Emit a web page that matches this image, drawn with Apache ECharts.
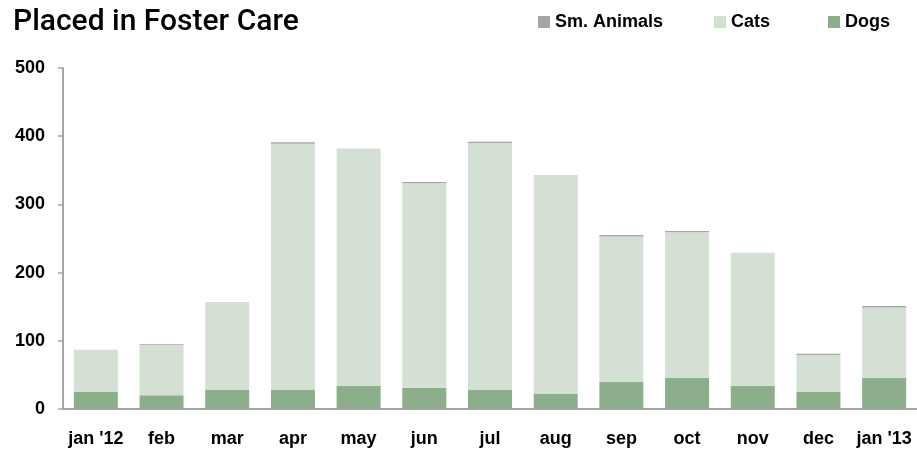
<!DOCTYPE html>
<html>
<head>
<meta charset="utf-8">
<script src="https://cdn.jsdelivr.net/npm/echarts@6/dist/echarts.min.js"></script>
<style>
  html, body { margin: 0; padding: 0; background: #fff; }
  #chart { width: 917px; height: 454px; }
</style>
</head>
<body>
<div id="chart"></div>
<script>
// data
const months = ["jan '12", 'feb', 'mar', 'apr', 'may', 'jun', 'jul', 'aug', 'sep', 'oct', 'nov', 'dec', "jan '13"];
const dogs = [25, 20, 28, 28, 34, 31, 28, 22, 40, 46, 34, 25, 46];
const cats = [62, 74, 129, 361, 348, 300, 362, 321, 213, 213, 195, 54, 103];
const smAnimals = [0, 1, 0, 2, 0, 2, 2, 0, 2, 2, 0, 2, 2];
const yTicks = [0, 100, 200, 300, 400, 500];

const gray = '#A6A6A6';
const labelFont = { fontFamily: '"Liberation Sans", Arial, sans-serif', fontWeight: 'bold', fontSize: 18, color: '#000' };
const legendText = { fontFamily: '"Liberation Sans", Arial, sans-serif', fontWeight: 'bold', fontSize: 18, color: '#000' };

const chart = echarts.init(document.getElementById('chart'));

// one legend per entry so each can sit where the reference has it
const mkLegend = (name, left) => ({
    data: [name],
    left: left,
    top: 13,
    padding: 0,
    itemWidth: 12,
    itemHeight: 12,
    itemGap: 0,
    icon: 'rect',
    textStyle: legendText,
    selectedMode: false
});

chart.setOption({
    animation: false,
    title: {
        text: 'Placed in Foster Care',
        left: 8,
        top: 2,
        textStyle: { fontFamily: 'Roboto, "Liberation Sans", sans-serif', fontWeight: 500, fontSize: 30, color: '#000' }
    },
    legend: [
        mkLegend('Sm. Animals', 538),
        mkLegend('Cats', 714),
        mkLegend('Dogs', 828)
    ],
    grid: { left: 63, right: 0, top: 68, bottom: 45, containLabel: false },
    xAxis: {
        type: 'category',
        data: months,
        axisLine: { lineStyle: { color: gray, width: 2 } },
        axisTick: { alignWithLabel: true, length: 5, lineStyle: { color: gray, width: 1.5 } },
        axisLabel: Object.assign({ margin: 21, interval: 0 }, labelFont)
    },
    yAxis: {
        type: 'value',
        min: yTicks[0],
        max: yTicks[yTicks.length - 1],
        interval: 100,
        splitLine: { show: false },
        axisLine: { show: true, lineStyle: { color: gray, width: 2 } },
        axisTick: { show: true, length: 5, lineStyle: { color: gray, width: 1.5 } },
        axisLabel: Object.assign({ margin: 18 }, labelFont)
    },
    series: [
        {
            name: 'Dogs', type: 'bar', stack: 'all', data: dogs,
            barCategoryGap: '33%',
            itemStyle: { color: '#8DAE8A' }
        },
        {
            name: 'Cats', type: 'bar', stack: 'all', data: cats,
            itemStyle: { color: '#D4E0D3' }
        },
        {
            name: 'Sm. Animals', type: 'bar', stack: 'all', data: smAnimals,
            itemStyle: { color: gray }
        }
    ]
});
</script>
</body>
</html>
